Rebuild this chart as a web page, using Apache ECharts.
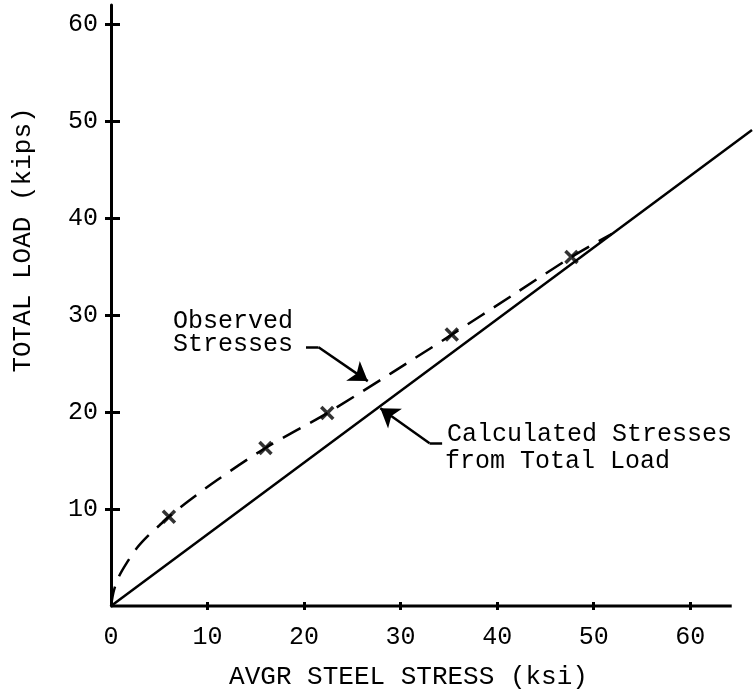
<!DOCTYPE html>
<html>
<head>
<meta charset="utf-8">
<script src="https://cdn.jsdelivr.net/npm/echarts@6/dist/echarts.min.js"></script>
<style>
html,body{margin:0;padding:0;background:#fff;}
#chart{width:754px;height:690px;}
</style>
</head>
<body>
<div id="chart"></div>
<script>
// ---- data ----
const xTicks = [0, 10, 20, 30, 40, 50, 60];
const yTicks = [10, 20, 30, 40, 50, 60];
const xTitle = 'AVGR STEEL STRESS (ksi)';
const yTitle = 'TOTAL LOAD (kips)';
const xAxisLineEnd = 64.3;   // drawn x axis stops short of the plotted line

// calculated stresses from total load (straight line)
const calculatedLine = [[0, 0], [66.4, 49.1]];

// observed stresses: dashed curve and the measured "x" points
const observedCurve = [
  [0, 0], [0.3, 1.6], [0.8, 3.0], [1.6, 4.4], [2.7, 6.0], [3.8, 7.2],
  [5.0, 8.3], [6.0, 9.2], [8.0, 10.8], [11.0, 13.0], [16.0, 16.3],
  [22.4, 19.9], [29.0, 24.0], [35.3, 28.0], [41.5, 32.0], [47.7, 36.0], [51.9, 38.4]
];
const observedPoints = [[6.0, 9.2], [16.0, 16.3], [22.4, 19.9], [35.3, 28.0], [47.7, 36.0]];

// annotation leader arrows (data coordinates): stub then pointer
const observedStub = [[20.2, 26.7], [21.5, 26.7]];
const observedPointer = [[21.5, 26.7], [26.6, 23.2]];
const calculatedStub = [[34.3, 16.8], [33.0, 16.8]];
const calculatedPointer = [[33.0, 16.8], [27.9, 20.4]];

const annObserved = ['Observed', 'Stresses'];
const annCalculated = ['Calculated Stresses', 'from Total Load'];

const FONT = '"Liberation Mono", "DejaVu Sans Mono", monospace';

const chart = echarts.init(document.getElementById('chart'), null, {renderer: 'canvas'});

const option = {
  backgroundColor: '#fff',
  animation: false,
  grid: {left: 111, right: 2, top: 5, bottom: 84, containLabel: false, outerBoundsMode: 'none'},
  xAxis: [
    {
      type: 'value', min: 0, max: 66.4,
      axisLine: {show: false},
      axisTick: {show: true, inside: true, length: 4, lineStyle: {color: '#000', width: 3}, customValues: xTicks.slice(1)},
      axisLabel: {show: true, color: '#000', fontFamily: FONT, fontSize: 25, margin: 19, customValues: xTicks},
      splitLine: {show: false},
      name: xTitle, nameLocation: 'middle', nameGap: 58,
      nameTextStyle: {color: '#000', fontFamily: FONT, fontSize: 26, padding: [0, 46, 0, 0]}
    },
    {
      type: 'value', min: 0, max: 66.4, position: 'bottom',
      axisLine: {show: false},
      axisTick: {show: true, inside: false, length: 4, lineStyle: {color: '#000', width: 3}, customValues: xTicks.slice(1)},
      axisLabel: {show: false},
      splitLine: {show: false}
    }
  ],
  yAxis: [
    {
      type: 'value', min: 0, max: 62,
      axisLine: {show: true, lineStyle: {color: '#000', width: 3}},
      axisTick: {show: true, inside: true, length: 9, lineStyle: {color: '#000', width: 3}, customValues: yTicks},
      axisLabel: {show: true, color: '#000', fontFamily: FONT, fontSize: 25, margin: 13, customValues: yTicks},
      splitLine: {show: false}
    },
    {
      type: 'value', min: 0, max: 62, position: 'left',
      axisLine: {show: false},
      axisTick: {show: true, inside: false, length: 6, lineStyle: {color: '#000', width: 3}, customValues: yTicks},
      axisLabel: {show: false},
      splitLine: {show: false}
    }
  ],
  series: [
    {
      // x axis line
      type: 'line', data: [[0, 0], [xAxisLineEnd, 0]], showSymbol: false, symbol: 'none', clip: false,
      lineStyle: {color: '#000', width: 3}, z: 1, silent: true
    },
    {
      type: 'line', data: calculatedLine, showSymbol: false, symbol: 'none', clip: false,
      lineStyle: {color: '#000', width: 2.5}
    },
    {
      type: 'line', data: observedCurve, showSymbol: false, symbol: 'none', smooth: 0.3,
      lineStyle: {color: '#000', width: 2.5, type: [20, 11]}
    },
    {
      type: 'scatter', data: observedPoints,
      symbol: 'path://M0,0L10,10M0,10L10,0', symbolSize: 12,
      itemStyle: {color: 'rgba(0,0,0,0)', borderColor: '#000', borderWidth: 3.5}
    },
    {
      type: 'lines', coordinateSystem: 'cartesian2d',
      symbol: ['none', 'none'],
      lineStyle: {color: '#000', width: 2.5, opacity: 1},
      data: [{coords: observedStub}, {coords: calculatedStub}]
    },
    {
      type: 'lines', coordinateSystem: 'cartesian2d',
      symbol: ['none', 'arrow'], symbolSize: [8, 18],
      lineStyle: {color: '#000', width: 2.5, opacity: 1},
      data: [{coords: observedPointer}, {coords: calculatedPointer}]
    }
  ],
  graphic: [
    {type: 'text', x: 23, y: 240, rotation: Math.PI / 2,
      style: {text: yTitle, font: '26px ' + FONT, fill: '#000', align: 'center', verticalAlign: 'middle'}},
    {type: 'text', x: 173, y: 321,
      style: {text: annObserved[0], font: '25px ' + FONT, fill: '#000', align: 'left', verticalAlign: 'middle'}},
    {type: 'text', x: 173, y: 344,
      style: {text: annObserved[1], font: '25px ' + FONT, fill: '#000', align: 'left', verticalAlign: 'middle'}},
    {type: 'text', x: 447, y: 434,
      style: {text: annCalculated[0], font: '25px ' + FONT, fill: '#000', align: 'left', verticalAlign: 'middle'}},
    {type: 'text', x: 445, y: 461,
      style: {text: annCalculated[1], font: '25px ' + FONT, fill: '#000', align: 'left', verticalAlign: 'middle'}}
  ]
};
chart.setOption(option);
</script>
</body>
</html>
